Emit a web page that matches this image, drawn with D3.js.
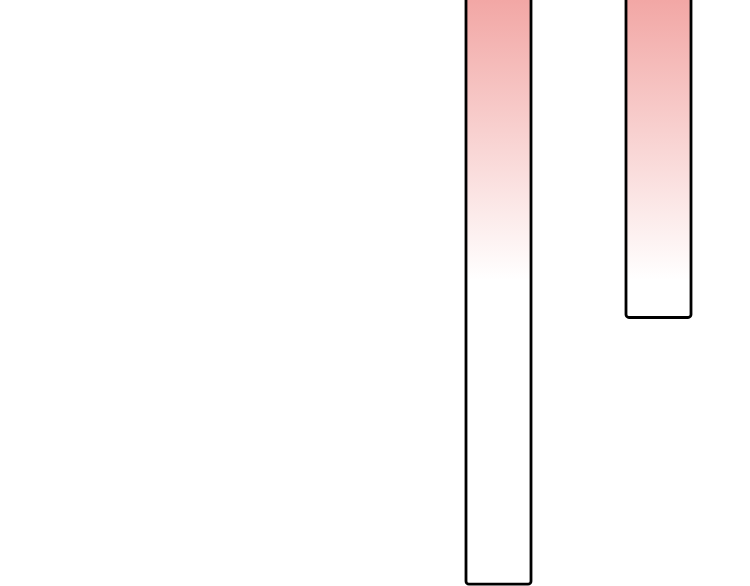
<!DOCTYPE html>
<html>
<head>
<meta charset="utf-8">
<script src="https://cdn.jsdelivr.net/npm/d3@7"></script>
<style>
  html, body { margin: 0; padding: 0; background: #fff; }
  svg { display: block; }
</style>
</head>
<body>
<div id="chart"></div>
<script>
const categories = ["A", "B"];
const values = [-92, -50];

const svgWidth = 750;
const svgHeight = 586;

const svg = d3.select("#chart")
    .append("svg")
    .attr("width", svgWidth)
    .attr("height", svgHeight);

// gradient fades from light red at the top to white
const grad = svg.append("defs")
    .append("linearGradient")
    .attr("id", "barFill")
    .attr("gradientUnits", "userSpaceOnUse")
    .attr("x1", 0).attr("y1", 0)
    .attr("x2", 0).attr("y2", 280);
grad.append("stop").attr("offset", "0%").attr("stop-color", "#f2a7a5");
grad.append("stop").attr("offset", "100%").attr("stop-color", "#ffffff");

const x = d3.scaleBand()
    .domain(categories)
    .range([419, 739])
    .paddingInner(0.5875)
    .paddingOuter(0.29375);

const y = d3.scaleLinear()
    .domain([0, -100])
    .range([0, 635]);

const data = categories.map((c, i) => ({ cat: c, value: values[i] }));

svg.append("g")
    .selectAll(".bar")
    .data(data)
    .enter()
    .append("rect")
    .attr("class", "bar")
    .attr("x", d => x(d.cat))
    .attr("y", y(0) - 10)
    .attr("width", x.bandwidth() - 1)
    .attr("height", d => y(d.value) - y(0) + 10)
    .attr("rx", 3)
    .attr("ry", 3)
    .attr("fill", "url(#barFill)")
    .attr("stroke", "#000")
    .attr("stroke-width", 2.8);
</script>
</body>
</html>
